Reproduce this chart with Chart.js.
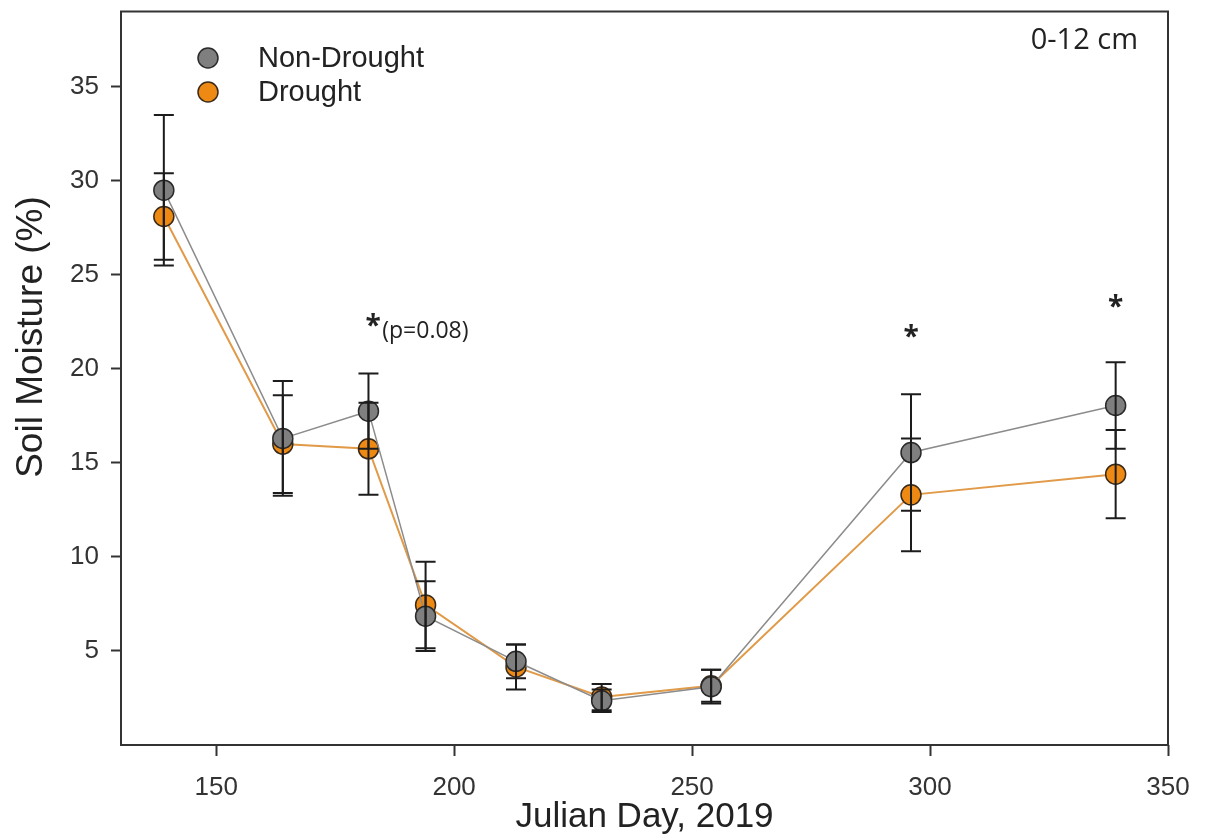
<!DOCTYPE html>
<html>
<head>
<meta charset="utf-8">
<script src="https://cdn.jsdelivr.net/npm/chart.js@4/dist/chart.umd.min.js"></script>
<style>
    body { margin: 0; background: #fff; }
    #wrap { width: 1206px; height: 840px; }
</style>
</head>
<body>
<div id="wrap"><canvas id="chartMoisture"></canvas></div>
<script>
// sampling days and mean soil moisture (%) with error bar half-widths
const days = [139, 164, 182, 194, 213, 231, 254, 296, 339];
const nonDrought = [29.5, 16.3, 17.75, 6.85, 4.45, 2.35, 3.1, 15.55, 18.05];
const nonDroughtErr = [4.0, 3.05, 2.0, 1.85, 0.9, 0.6, 0.9, 3.1, 2.3];
const drought = [28.1, 16.0, 15.75, 7.45, 4.15, 2.55, 3.15, 13.3, 14.4];
const droughtErr = [2.3, 2.6, 2.45, 2.3, 1.2, 0.7, 0.85, 3.0, 2.35];

const xTicks = [150, 200, 250, 300, 350];
const yTicks = [5, 10, 15, 20, 25, 30, 35];

// significance marks: day, height, label
const sigDays = [183, 296, 339];
const sigLevels = [22.6, 22.0, 23.6];
const sigNotes = ['(p=0.08)', '', ''];

const FONT = "'Liberation Sans', Arial, sans-serif";

function toPoints(ys) {
    return days.map((d, i) => ({x: d, y: ys[i]}));
}

const errorBars = {
    id: 'errorBars',
    afterDatasetsDraw(chart) {
        const ctx = chart.ctx;
        const xs = chart.scales.x, ys = chart.scales.y;
        ctx.save();
        ctx.strokeStyle = '#1c1c1c';
        ctx.lineWidth = 2;
        chart.data.datasets.forEach((ds) => {
            ds.data.forEach((p, i) => {
                const e = ds.errors[i];
                const px = xs.getPixelForValue(p.x);
                const top = ys.getPixelForValue(p.y + e);
                const bot = ys.getPixelForValue(p.y - e);
                ctx.beginPath();
                ctx.moveTo(px, top); ctx.lineTo(px, bot);
                ctx.moveTo(px - 10, top); ctx.lineTo(px + 10, top);
                ctx.moveTo(px - 10, bot); ctx.lineTo(px + 10, bot);
                ctx.stroke();
            });
        });
        ctx.restore();
    }
};

const decorations = {
    id: 'decorations',
    afterDraw(chart) {
        const ctx = chart.ctx;
        const area = chart.chartArea;
        const xs = chart.scales.x, ys = chart.scales.y;
        ctx.save();

        // frame round the plot
        ctx.strokeStyle = '#333';
        ctx.lineWidth = 2;
        ctx.strokeRect(area.left, area.top, area.right - area.left, area.bottom - area.top);

        // axis titles
        ctx.fillStyle = '#222';
        ctx.textAlign = 'center';
        ctx.textBaseline = 'middle';
        ctx.font = '35px ' + FONT;
        ctx.fillText('Julian Day, 2019', (area.left + area.right) / 2, 817);
        ctx.save();
        ctx.translate(32, 337);
        ctx.rotate(-Math.PI / 2);
        ctx.font = '37px ' + FONT;
        ctx.fillText('Soil Moisture (%)', 0, 0);
        ctx.restore();

        // legend
        ctx.textAlign = 'left';
        ctx.font = '29px ' + FONT;
        chart.data.datasets.forEach((ds, i) => {
            const ly = 58 + i * 34;
            ctx.beginPath();
            ctx.arc(208, ly, 10, 0, Math.PI * 2);
            ctx.fillStyle = ds.pointBackgroundColor;
            ctx.fill();
            ctx.lineWidth = 1.5;
            ctx.strokeStyle = ds.pointBorderColor;
            ctx.stroke();
            ctx.fillStyle = '#222';
            ctx.fillText(ds.label, 258, ly + 1);
        });

        // depth label
        ctx.textAlign = 'right';
        ctx.font = "29px 'Open Sans', sans-serif";
        ctx.fillText('0-12 cm', 1138, 41);

        // significance marks
        sigDays.forEach((d, i) => {
            const px = xs.getPixelForValue(d);
            const py = ys.getPixelForValue(sigLevels[i]);
            ctx.textAlign = 'center';
            ctx.font = "bold 28px 'Open Sans', sans-serif";
            ctx.fillText('*', px, py + 7);
            if (sigNotes[i]) {
                ctx.textAlign = 'left';
                ctx.font = "23px 'Open Sans', sans-serif";
                ctx.fillText(sigNotes[i], px + 9, py + 12);
            }
        });
        ctx.restore();
    }
};

const ctxMoisture = document.getElementById('chartMoisture').getContext('2d');
const moistureChart = new Chart(ctxMoisture, {
    type: 'scatter',
    data: {
        datasets: [
            {
                label: 'Non-Drought',
                data: toPoints(nonDrought),
                errors: nonDroughtErr,
                showLine: true,
                borderColor: '#8c8c8c',
                borderWidth: 1.5,
                pointRadius: 10,
                pointBackgroundColor: '#7f7f7f',
                pointBorderColor: '#2a2a2a',
                pointBorderWidth: 1.5,
            },
            {
                label: 'Drought',
                data: toPoints(drought),
                errors: droughtErr,
                showLine: true,
                borderColor: '#e09a48',
                borderWidth: 2,
                pointRadius: 10,
                pointBackgroundColor: '#ee8a14',
                pointBorderColor: '#3a2a1a',
                pointBorderWidth: 1.5,
            }
        ]
    },
    options: {
        responsive: true,
        maintainAspectRatio: false,
        animation: false,
        layout: {padding: {top: 5, right: 38, left: 0, bottom: 0}},
        plugins: {legend: {display: false}, tooltip: {enabled: false}},
        scales: {
            x: {
                type: 'linear',
                min: 130,
                max: 350,
                afterBuildTicks: (scale) => { scale.ticks = xTicks.map(v => ({value: v})); },
                afterFit: (scale) => {
                    scale.height = 95;
                    scale.paddingLeft = 0;
                    scale.paddingRight = 0;
                },
                grid: {drawOnChartArea: false, tickLength: 11, tickColor: '#333', tickWidth: 2},
                border: {display: false},
                ticks: {font: {family: FONT, size: 26}, color: '#333', padding: 16, maxRotation: 0}
            },
            y: {
                min: 0,
                max: 39,
                afterBuildTicks: (scale) => { scale.ticks = yTicks.map(v => ({value: v})); },
                afterFit: (scale) => {
                    scale.width = 121;
                    scale.paddingTop = 0;
                    scale.paddingBottom = 0;
                },
                grid: {drawOnChartArea: false, tickLength: 10, tickColor: '#333', tickWidth: 2},
                border: {display: false},
                ticks: {font: {family: FONT, size: 26}, color: '#333', padding: 12}
            }
        }
    },
    plugins: [errorBars, decorations]
});
</script>
</body>
</html>
